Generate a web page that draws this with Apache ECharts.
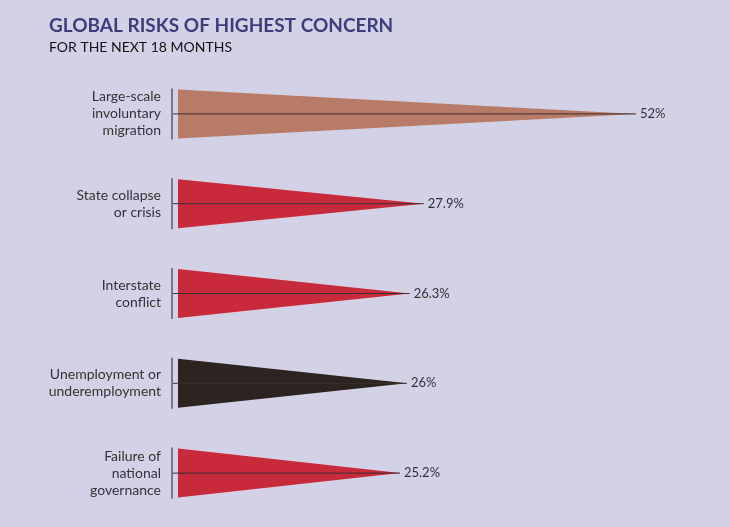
<!DOCTYPE html>
<html><head><meta charset="utf-8">
<script src="https://cdn.jsdelivr.net/npm/echarts@6/dist/echarts.min.js"></script>
<style>html,body{margin:0;padding:0;background:#d3d1e5;}#c{width:730px;height:527px;}</style>
</head><body><div id="c"></div>
<script>
const categories = ['Large-scale\ninvoluntary\nmigration', 'State collapse\nor crisis', 'Interstate\nconflict', 'Unemployment or\nunderemployment', 'Failure of\nnational\ngovernance'];
const values = [52, 27.9, 26.3, 26, 25.2];
const valueLabels = ['52%', '27.9%', '26.3%', '26%', '25.2%'];
const colors = ['#b87b67', '#c72a3b', '#c72a3b', '#2a2521', '#c72a3b'];

const chart = echarts.init(document.getElementById('c'));
chart.setOption({
  backgroundColor: '#d3d1e5',
  animation: false,
  title: [
    {text: 'GLOBAL RISKS OF HIGHEST CONCERN', left: 44, top: 11,
     textStyle: {color: '#3c3e7c', fontSize: 19, fontWeight: 'bold', fontFamily: 'Lato'}},
    {text: 'FOR THE NEXT 18 MONTHS', left: 44, top: 35,
     textStyle: {color: '#111', fontSize: 14, fontWeight: 'normal', fontFamily: 'Lato'}}
  ],
  grid: {left: 178, top: 69, width: 528.5, height: 449},
  xAxis: {type: 'value', min: 0, max: 60, show: false},
  yAxis: {type: 'category', data: categories, inverse: true,
    axisLine: {show: false}, axisTick: {show: false}, splitLine: {show: false},
    axisLabel: {margin: 17, color: '#333', fontSize: 14, lineHeight: 17, fontFamily: 'Lato', align: 'right'}},
  series: [{
    type: 'custom',
    data: values.map((v, i) => [v, i]),
    renderItem: function (params, api) {
      const i = api.value(1);
      const v = api.value(0);
      const p0 = api.coord([0, i]);
      const p1 = api.coord([v, i]);
      const h = 24.5;
      return {type: 'group', children: [
        {type: 'polygon', shape: {points: [[p0[0], p0[1] - h], [p0[0], p0[1] + h], [p1[0], p1[1]]]},
         style: {fill: colors[params.dataIndex]}},
        {type: 'line', shape: {x1: p0[0] - 6, y1: p0[1], x2: p1[0], y2: p1[1]},
         style: {stroke: '#3a3030', lineWidth: 1}},
        {type: 'line', shape: {x1: p0[0] - 6, y1: p0[1] - h - 1, x2: p0[0] - 6, y2: p0[1] + h + 1},
         style: {stroke: '#77768a', lineWidth: 2}},
        {type: 'text', x: p1[0] + 4, y: p1[1],
         style: {text: valueLabels[params.dataIndex], fill: '#333', fontSize: 13, fontFamily: 'Lato', verticalAlign: 'middle', align: 'left'}}
      ]};
    }
  }]
});
</script></body></html>
